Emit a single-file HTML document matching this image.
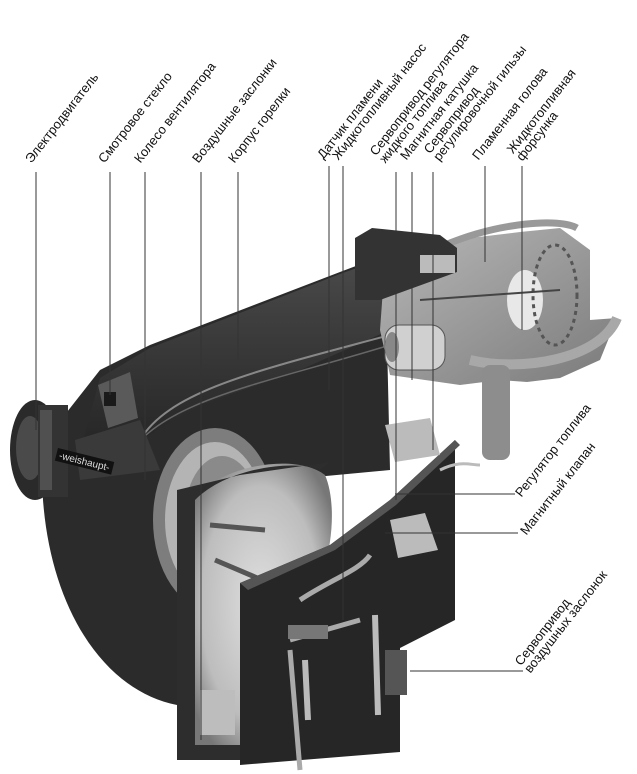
<!DOCTYPE html>
<html><head><meta charset="utf-8"><style>
html,body{margin:0;padding:0;background:#fff}
#w{position:relative;width:637px;height:774px;overflow:hidden;font-family:"Liberation Sans",sans-serif}
.l{position:absolute;font-size:13px;line-height:12px;white-space:nowrap;transform-origin:0 100%;transform:rotate(-52deg);color:#111}
svg{position:absolute;left:0;top:0}
</style></head><body><div id="w">
<svg width="637" height="774" viewBox="0 0 637 774">
<defs>
<radialGradient id="fan" cx="0.5" cy="0.5" r="0.6"><stop offset="0" stop-color="#e0e0e0"/><stop offset="0.7" stop-color="#bdbdbd"/><stop offset="1" stop-color="#777"/></radialGradient>
<linearGradient id="head" x1="0" y1="0" x2="1" y2="1"><stop offset="0" stop-color="#b8b8b8"/><stop offset="1" stop-color="#7a7a7a"/></linearGradient>
<linearGradient id="top" x1="0" y1="0" x2="0" y2="1"><stop offset="0" stop-color="#4a4a4a"/><stop offset="1" stop-color="#262626"/></linearGradient>
</defs>
<path d="M45,440 L100,370 L150,345 L340,272 L385,255 L390,470 L177,490 L177,705 C100,690 45,600 42,480 Z" fill="#2b2b2b"/>
<path d="M82,445 L100,378 L150,348 L340,274 L385,258 L390,330 L300,370 L200,405 L140,440 Z" fill="url(#top)"/>
<path d="M140,440 C170,390 260,370 390,335" stroke="#888" stroke-width="2" fill="none"/>
<path d="M125,460 C160,400 260,385 390,345" stroke="#666" stroke-width="1.5" fill="none"/>
<polygon points="98,385 130,372 138,418 108,428" fill="#5a5a5a"/>
<rect x="104" y="392" width="12" height="14" fill="#1a1a1a"/>
<polygon points="75,440 140,420 160,470 80,480" fill="#3a3a3a"/>
<ellipse cx="35" cy="450" rx="25" ry="50" fill="#2a2a2a"/>
<ellipse cx="30" cy="448" rx="14" ry="32" fill="#4a4a4a"/>
<rect x="38" y="405" width="30" height="92" fill="#333"/>
<rect x="40" y="410" width="12" height="80" fill="#505050"/>
<g transform="translate(58,448) rotate(14)"><rect x="0" y="0" width="58" height="13" fill="#111"/><text x="3" y="10" font-size="10" fill="#ddd" font-family="Liberation Sans, sans-serif">-weishaupt-</text></g>
<ellipse cx="215" cy="520" rx="62" ry="92" fill="#7d7d7d"/>
<ellipse cx="215" cy="520" rx="50" ry="78" fill="#b4b4b4"/>
<ellipse cx="222" cy="520" rx="38" ry="64" fill="#8a8a8a"/>
<path d="M190,500 C230,460 300,455 325,475 C340,510 330,580 300,620 L245,640 L240,745 L192,745 Z" fill="url(#fan)"/>
<path d="M210,525 L265,530 M215,560 L262,580" stroke="#555" stroke-width="5"/>
<rect x="200" y="690" width="35" height="45" fill="#bdbdbd"/>
<path d="M177,490 L240,475 L330,462 L320,470 C300,460 230,465 195,500 L195,745 L240,745 L240,585 L248,580 L248,760 L177,760 Z" fill="#2d2d2d"/>
<polygon points="240,583 330,545 390,500 455,440 455,620 400,648 400,752 240,765" fill="#262626"/>
<polygon points="240,583 330,545 390,500 455,440 460,445 396,505 335,550 248,590" fill="#555"/>
<path d="M385,262 L470,238 L520,232 L560,228 L590,250 L590,320 L617,318 L600,360 L560,378 L527,382 L500,380 L460,385 L390,375 L380,330 Z" fill="url(#head)"/>
<path d="M445,245 C500,222 560,218 577,228" stroke="#999" stroke-width="7" fill="none"/>
<path d="M470,360 C520,372 600,360 617,318" stroke="#a8a8a8" stroke-width="10" fill="none"/>
<ellipse cx="525" cy="300" rx="18" ry="30" fill="#e8e8e8"/>
<ellipse cx="555" cy="295" rx="22" ry="50" fill="none" stroke="#555" stroke-width="3" stroke-dasharray="4 4"/>
<rect x="385" y="325" width="60" height="45" rx="14" fill="#d0d0d0" stroke="#555"/>
<ellipse cx="392" cy="347" rx="7" ry="15" fill="#888"/>
<line x1="420" y1="300" x2="560" y2="290" stroke="#444" stroke-width="2"/>
<polygon points="355,238 372,228 440,235 457,248 457,272 380,300 355,300" fill="#333"/>
<rect x="420" y="255" width="35" height="18" fill="#bbb"/>
<rect x="482" y="365" width="28" height="95" rx="8" fill="#8d8d8d"/>
<polygon points="385,425 430,418 440,455 395,462" fill="#bbb"/>
<polygon points="390,520 425,513 438,550 398,558" fill="#bbb"/>
<path d="M300,600 C330,580 360,570 370,555 M290,640 L360,620 M290,650 L300,770" stroke="#aaa" stroke-width="5" fill="none"/>
<path d="M305,660 L308,720 M375,615 L378,715" stroke="#bbb" stroke-width="6" fill="none"/>
<rect x="288" y="625" width="40" height="14" fill="#777"/>
<rect x="385" y="650" width="22" height="45" fill="#555"/>
<path d="M440,470 C460,460 470,465 480,465" stroke="#bbb" stroke-width="3" fill="none"/>
<g stroke="#333" stroke-width="1">
<line x1="36" y1="172" x2="36" y2="430"/>
<line x1="110" y1="172" x2="110" y2="395"/>
<line x1="145" y1="172" x2="145" y2="480"/>
<line x1="201" y1="172" x2="201" y2="740"/>
<line x1="238" y1="172" x2="238" y2="360"/>
<line x1="329" y1="166" x2="329" y2="390"/>
<line x1="343" y1="166" x2="343" y2="620"/>
<line x1="396" y1="172" x2="396" y2="500"/>
<line x1="412" y1="172" x2="412" y2="380"/>
<line x1="433" y1="172" x2="433" y2="450"/>
<line x1="485" y1="166" x2="485" y2="262"/>
<line x1="522" y1="166" x2="522" y2="330"/>
<line x1="395" y1="494" x2="515" y2="494"/>
<line x1="385" y1="533" x2="518" y2="533"/>
<line x1="410" y1="671" x2="523" y2="671"/>
</g>
</svg>
<div class="l" style="left:33px;top:153px">Электродвигатель</div>
<div class="l" style="left:106px;top:153px">Смотровое стекло</div>
<div class="l" style="left:142px;top:153px">Колесо вентилятора</div>
<div class="l" style="left:200px;top:153px">Воздушные заслонки</div>
<div class="l" style="left:236px;top:153px">Корпус горелки</div>
<div class="l" style="left:325px;top:149px">Датчик пламени</div>
<div class="l" style="left:340px;top:150px">Жидкотопливный насос</div>
<div class="l" style="left:387px;top:141px">Сервопривод регулятора<br>жидкого топлива</div>
<div class="l" style="left:408px;top:150px">Магнитная катушка</div>
<div class="l" style="left:441px;top:139px">Сервопривод<br>регулировочной гильзы</div>
<div class="l" style="left:480px;top:150px">Пламенная голова</div>
<div class="l" style="left:524px;top:139px">Жидкотопливная<br>форсунка</div>
<div class="l" style="left:523px;top:487px">Регулятор топлива</div>
<div class="l" style="left:528px;top:525px">Магнитный клапан</div>
<div class="l" style="left:532px;top:651px">Сервопривод<br>воздушных заслонок</div>
</div></body></html>
